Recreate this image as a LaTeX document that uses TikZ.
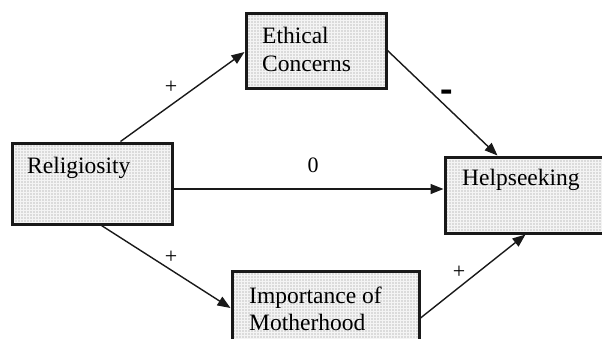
\documentclass[tikz,border=0pt]{standalone}
\usepackage{fontspec}
\setmainfont{Liberation Serif}
\usetikzlibrary{arrows.meta}
\begin{document}
\begin{tikzpicture}[x=1pt,y=-1pt,
  boxshape/.style={draw=black!90, line width=3pt, fill=black!14, rectangle, inner sep=0pt,
    preaction={fill=black!14},
    path picture={\draw[white!70!black!14, line width=0.7pt, step=3pt]
      (path picture bounding box.south west) grid (path picture bounding box.north east);}},
  lbl/.style={font=\fontsize{23.5}{28}\selectfont, inner sep=0pt, anchor=base west, align=left},
  sgn/.style={font=\fontsize{22}{26}\selectfont, inner sep=0pt},
  arr/.style={line width=1.4pt, draw=black!90, -{Triangle[length=13pt,width=10pt]}}]
\useasboundingbox (0,0) rectangle (602,338);
\clip (0,0) rectangle (602,338);
% boxes
\node[boxshape, minimum width=160pt, minimum height=81pt] (rel) at (92,183.5) {};
\node[boxshape, minimum width=140pt, minimum height=75pt] (eth) at (316,50.5) {};
\node[boxshape, minimum width=175pt, minimum height=76pt] (help) at (532.5,195) {};
\node[boxshape, minimum width=187pt, minimum height=80pt] (imp) at (325.5,311) {};
% texts
\node[lbl] (reltxt) at (27,173) {Religiosity};
\node[lbl] (ethtxt1) at (262,43) {Ethical};
\node[lbl] (ethtxt2) at (262,71) {Concerns};
\node[lbl] (helptxt) at (462,185) {Helpseeking};
\node[lbl] (imptxt1) at (249,303) {Importance of};
\node[lbl] (imptxt2) at (249,330) {Motherhood};
% connectors
\draw[arr] ([xshift=110pt]rel.north west) -- ([yshift=-1.5pt]eth.west);
\draw[arr] (eth.east) -- ([xshift=54pt]help.north west);
\draw[arr] ([yshift=-5.5pt]rel.east) -- ([yshift=-5.5pt]rel.east -| help.west);
\draw[arr] ([xshift=91pt]rel.south west) -- ([yshift=3pt]imp.west);
\draw[arr] ([yshift=-7pt]imp.east) -- ([xshift=82pt]help.south west);
% signs
\node[sgn] (s1) at (171,87) {+};
\node[sgn] (s2) at (447,97) {\textbf{\scalebox{1.7}[2.2]{-}}};
\node[sgn] (s3) at (313,165) {0};
\node[sgn] (s4) at (171,257) {+};
\node[sgn] (s5) at (459,272) {+};
\end{tikzpicture}
\end{document}
